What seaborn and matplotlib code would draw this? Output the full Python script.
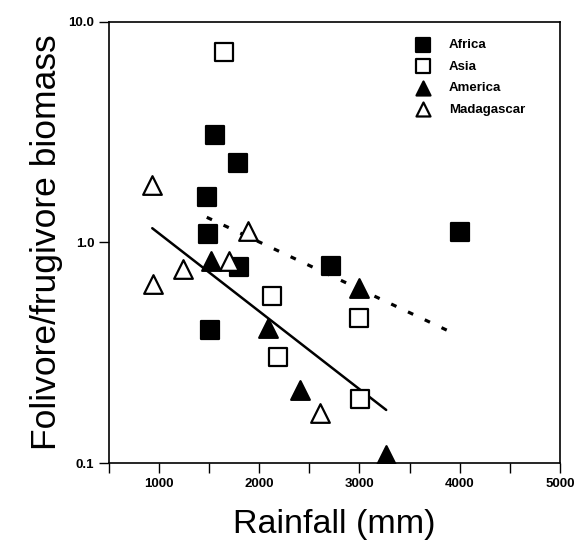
import matplotlib
matplotlib.use('Agg')
import matplotlib.pyplot as plt
import pandas as pd
import seaborn as sns

# values
africa_rain = [1557, 1787, 1477, 1490, 1800, 2717, 1507, 4000]
africa_ratio = [3.07, 2.30, 1.60, 1.09, 0.77, 0.78, 0.40, 1.11]
asia_rain = [1650, 2123, 3000, 2183, 3007]
asia_ratio = [7.33, 0.57, 0.456, 0.303, 0.195]
america_rain = [1523, 3000, 2083, 2410, 3267]
america_ratio = [0.827, 0.62, 0.408, 0.214, 0.109]
madagascar_rain = [933, 1890, 1700, 1243, 943, 2610]
madagascar_ratio = [1.82, 1.13, 0.827, 0.756, 0.649, 0.169]

# regression lines (end points)
solid_rain = [933, 3267]
solid_ratio = [1.16, 0.174]
dotted_rain = [1477, 3940]
dotted_ratio = [1.30, 0.387]

regions = ['Africa', 'Asia', 'America', 'Madagascar']
rains = [africa_rain, asia_rain, america_rain, madagascar_rain]
ratios = [africa_ratio, asia_ratio, america_ratio, madagascar_ratio]
markers = ['s', 's', '^', '^']
faces = ['black', 'white', 'black', 'white']

sns.set_style('ticks')
plt.rcParams['font.family'] = ['Liberation Sans', 'DejaVu Sans']
plt.rcParams['text.color'] = 'black'
plt.rcParams['axes.labelcolor'] = 'black'

fig = plt.figure(figsize=(5.79, 5.46), dpi=100)
ax = fig.add_axes([0.188, 0.152, 0.779, 0.808])

for name, x, y, m, fc in zip(regions, rains, ratios, markers, faces):
    df = pd.DataFrame({'rain': x, 'ratio': y})
    sns.scatterplot(data=df, x='rain', y='ratio', marker=m, s=180,
                    color=fc, edgecolor='black', linewidth=1.6,
                    label=name, ax=ax, zorder=3)

sns.lineplot(x=solid_rain, y=solid_ratio, color='black', lw=1.8, ax=ax)
sns.lineplot(x=dotted_rain, y=dotted_ratio, color='black', lw=2.3, ax=ax,
             linestyle=(0, (1.8, 4)))

ax.set_yscale('log')
ax.set_xlim(500, 5000)
ax.set_ylim(0.1, 10)
ax.set_xticks(range(500, 5001, 500))
ax.set_xticklabels(['' if v % 1000 else str(v) for v in range(500, 5001, 500)])
ax.set_yticks([0.1, 1, 10])
ax.set_yticklabels(['0.1', '1.0', '10.0'])
ax.yaxis.set_minor_locator(matplotlib.ticker.NullLocator())
ax.tick_params(length=7, width=1, direction='out', labelsize=9.5, colors='black')
for lab in ax.get_xticklabels() + ax.get_yticklabels():
    lab.set_fontweight('bold')
for sp in ax.spines.values():
    sp.set_visible(True)
    sp.set_linewidth(1.2)
    sp.set_color('black')

ax.set_xlabel('Rainfall (mm)', fontsize=24.5, labelpad=14)
ax.set_ylabel('Folivore/frugivore biomass', fontsize=25.5, labelpad=4)

ax.legend(loc='upper left', bbox_to_anchor=(0.64, 0.988), frameon=False,
          markerscale=0.75, handletextpad=1.0, labelspacing=0.7,
          prop={'weight': 'bold', 'size': 9.5})

fig.savefig('out.png', dpi=100)
